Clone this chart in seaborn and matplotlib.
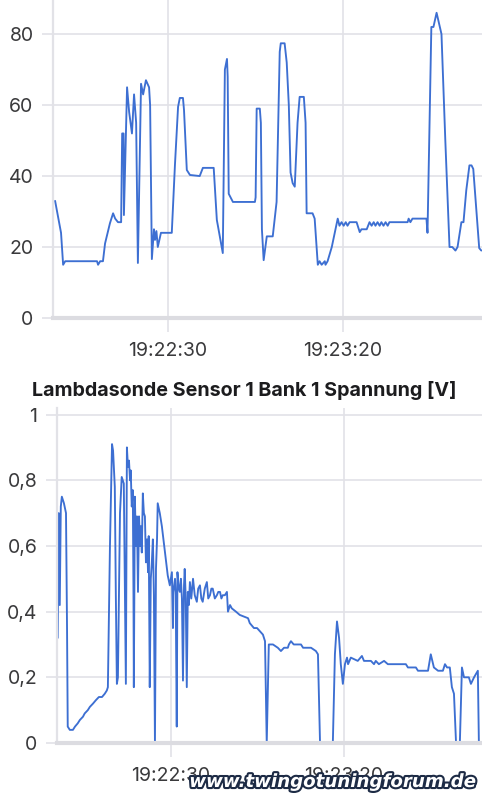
import pandas as pd
import matplotlib
matplotlib.use("Agg")
import matplotlib.pyplot as plt
import matplotlib.dates as mdates
import matplotlib.patheffects as pe
import seaborn as sns

# time stamps are seconds after 19:22:00
t_upper = [-2.3, -0.6, 0.0, 0.6, 9.7, 10.0, 10.6, 11.4, 12.0, 13.4, 14.3, 14.9, 15.7, 16.6,
           16.9, 17.3, 17.4, 18.3, 18.9, 19.7, 20.3, 20.9, 21.4, 22.3, 22.9, 23.7, 24.6, 24.9,
           25.4, 26.0, 26.3, 26.7, 27.1, 28.0, 31.1, 32.0, 32.9, 33.4, 34.3, 34.6, 35.4, 36.3,
           39.1, 40.0, 43.1, 44.0, 44.3, 45.7, 46.3, 46.9, 47.1, 47.4, 48.6, 54.9, 55.1, 55.4,
           56.3, 56.6, 56.9, 57.4, 58.3, 60.0, 61.1, 62.0, 62.3, 63.4, 64.0, 64.6, 65.1, 65.7,
           66.3, 67.1, 67.7, 68.9, 69.4, 69.7, 71.4, 72.0, 72.9, 73.4, 74.0, 74.9, 75.1, 75.7,
           76.9, 78.6, 79.1, 79.7, 80.3, 80.9, 81.4, 82.0, 82.6, 84.0, 84.9, 85.4, 86.9, 87.7,
           88.3, 88.9, 89.4, 90.0, 90.6, 91.1, 91.7, 92.3, 92.9, 93.4, 96.3, 98.6, 98.9, 99.4,
           100.0, 104.0, 104.3, 105.4, 106.0, 106.9, 108.3, 109.4, 110.6, 111.4, 112.3, 112.9,
           114.0, 114.6, 115.4, 116.3, 116.9, 117.4, 118.3, 119.1, 119.7]
upper_vals = [33, 24, 15, 16, 16, 15, 16, 16, 21, 26.7, 29.5, 28, 27, 27,
              52, 52, 29, 65, 58, 52, 63, 55, 15.5, 66, 63, 67, 65, 60,
              16.6, 25, 22, 24.5, 20, 24, 24, 43, 59.5, 62, 62, 58.6, 41.7, 40.3,
              40, 42.3, 42.3, 27.6, 26, 18.3, 70, 73, 68, 35, 32.7, 32.7, 34, 59,
              59, 55, 25, 16.3, 23, 23, 32.7, 75, 77.4, 77.4, 72, 60, 41, 38,
              37, 55, 62.3, 62.3, 55, 29.5, 29.5, 28, 15, 16, 15, 16, 15, 16,
              20, 28, 26, 27, 26, 27, 26, 27, 27, 27, 24.2, 25, 25, 27,
              26, 27, 26, 27, 26, 27, 26, 27, 26, 27, 27, 27, 28, 27,
              28, 28, 24, 82, 82, 86, 80, 50, 20, 20, 19, 20,
              27, 27, 36, 43, 43, 42, 30, 19.7, 19]

t_lambda = [-2.7, -2.4, -2.1, -1.8, -1.5, -0.9, -0.3, 0.0, 0.2, 0.8, 1.7, 2.3, 3.1, 3.7,
            4.6, 5.1, 6.0, 6.6, 7.5, 8.3, 9.2, 10.1, 10.9, 11.5,
            11.8, 12.4, 13.0, 13.3, 13.8, 14.1, 14.4, 14.7, 15.3, 15.8, 16.4, 16.7, 17.0,
            17.3, 17.6, 17.9, 18.2, 18.4, 18.7, 19.0, 19.2, 19.3, 19.6, 19.9, 20.2, 20.5,
            20.8, 21.1, 21.3, 21.6, 21.9, 22.2, 22.5, 22.8, 23.1, 23.4, 23.6, 23.9, 24.2,
            24.5, 24.8, 25.1, 25.4, 25.7, 26.0, 26.2, 26.8, 27.4, 28.3, 29.1, 29.7, 30.3,
            30.6, 30.7, 31.2, 31.4, 31.7, 31.9, 32.3, 32.6, 32.9, 33.2, 33.5, 33.8, 34.0,
            34.3, 34.6, 34.9, 35.2, 35.5, 35.9, 36.4, 36.9, 37.5, 37.9, 38.4, 38.8, 39.2,
            39.8, 40.4, 40.8, 41.3, 41.7, 42.1, 42.7, 43.3, 43.7, 44.2, 44.6, 45.0, 45.6,
            46.2, 46.5, 47.1, 47.6, 48.8, 49.9, 51.1, 52.3, 52.8,
            54.0, 54.9, 56.6, 57.2, 57.7, 58.3, 59.5, 60.9, 61.8, 62.7, 63.8,
            64.1, 64.7, 65.5, 67.6, 68.2, 70.5, 71.9, 72.5, 73.1, 76.8, 77.4, 78.0, 78.6,
            79.1, 79.7, 80.3, 80.9, 81.2, 82.0, 84.0, 85.2, 85.8, 87.8, 88.7, 89.2, 90.1,
            91.6, 92.7, 97.9, 98.5, 100.8, 101.4, 104.3, 105.1, 106.0, 107.2, 108.6, 109.2,
            109.8, 110.6, 111.2, 111.8, 112.4, 113.5, 114.1, 114.7, 115.3, 116.1, 116.7,
            117.6, 118.7, 119.0, 119.6]
lambda_volts = [0.32, 0.70, 0.42, 0.72, 0.75, 0.73, 0.70, 0.35, 0.05, 0.04, 0.04, 0.05, 0.06, 0.07,
                0.08, 0.09, 0.10, 0.11, 0.12, 0.13, 0.14, 0.14, 0.15, 0.16,
                0.17, 0.60, 0.91, 0.89, 0.78, 0.45, 0.18, 0.20, 0.70, 0.81, 0.79, 0.50, 0.18,
                0.90, 0.84, 0.86, 0.80, 0.83, 0.72, 0.77, 0.45, 0.17, 0.75, 0.60, 0.69, 0.46,
                0.69, 0.60, 0.66, 0.58, 0.76, 0.70, 0.69, 0.55, 0.62, 0.52, 0.63, 0.17, 0.50,
                0.55, 0.62, 0.45, 0.0, 0.53, 0.62, 0.73, 0.70, 0.66, 0.58, 0.51, 0.48, 0.52,
                0.35, 0.46, 0.50, 0.45, 0.05, 0.52, 0.47, 0.46, 0.50, 0.44, 0.19, 0.48, 0.53,
                0.44, 0.17, 0.46, 0.42, 0.49, 0.44, 0.50, 0.45, 0.43, 0.47, 0.48, 0.44, 0.43,
                0.47, 0.49, 0.44, 0.45, 0.47, 0.47, 0.44, 0.45, 0.46, 0.46, 0.44, 0.45, 0.45,
                0.46, 0.40, 0.42, 0.41, 0.40, 0.39, 0.385, 0.38, 0.365,
                0.35, 0.35, 0.33, 0.31, 0.0, 0.30, 0.30, 0.29, 0.28, 0.29, 0.29,
                0.30, 0.31, 0.30, 0.30, 0.29, 0.29, 0.28, 0.27, 0.0, 0.0, 0.27, 0.37, 0.32,
                0.24, 0.18, 0.24, 0.26, 0.24, 0.26, 0.25, 0.265, 0.25, 0.25, 0.24, 0.25, 0.24,
                0.25, 0.24, 0.24, 0.23, 0.23, 0.22, 0.22, 0.27, 0.23, 0.22, 0.22, 0.24,
                0.23, 0.23, 0.17, 0.15, 0.0, 0.0, 0.23, 0.20, 0.20, 0.20, 0.18,
                0.20, 0.22, 0.0, 0.0]

x_tick_labels = ["19:22:30", "19:23:20"]
upper_yticks = [0, 20, 40, 60, 80]
lambda_yticks = [0, 0.2, 0.4, 0.6, 0.8, 1.0]
lambda_title = "Lambdasonde Sensor 1 Bank 1 Spannung [V]"
watermark = "www.twingotuningforum.de"

base = pd.Timestamp("2023-06-01 19:22:00")
df_up = pd.DataFrame({"time": base + pd.to_timedelta(t_upper, unit="s"), "value": upper_vals})
df_lam = pd.DataFrame({"time": base + pd.to_timedelta(t_lambda, unit="s"), "value": lambda_volts})

sns.set_theme(style="white")
plt.rcParams["font.family"] = ["Inter", "DejaVu Sans"]

line_c = "#3d6fd2"
grid_c = "#e2e2e7"
text_c = "#3a3a3c"

fig = plt.figure(figsize=(4.82, 8.0), dpi=100)
ax1 = fig.add_axes([53 / 482, 1 - 318 / 800, 1 - 53 / 482, 318 / 800])
ax2 = fig.add_axes([57 / 482, 1 - 743 / 800, 1 - 57 / 482, 335 / 800])

xmin = base + pd.Timedelta(seconds=-2.9)
xmax = base + pd.Timedelta(seconds=119.9)
tick_times = [pd.Timestamp(f"2023-06-01 {s}") for s in x_tick_labels]

for ax, df, yticks, ytop in [(ax1, df_up, upper_yticks, 89.6), (ax2, df_lam, lambda_yticks, 1.02)]:
    sns.lineplot(data=df, x="time", y="value", ax=ax, color=line_c, lw=1.35,
                 sort=False, estimator=None)
    ax.set_xlim(xmin, xmax)
    ax.set_ylim(0, ytop)
    ax.set_xticks(tick_times)
    ax.xaxis.set_major_formatter(mdates.DateFormatter("%H:%M:%S"))
    ax.set_yticks(yticks)
    ax.set_yticklabels([f"{v:g}".replace(".", ",") for v in yticks])
    ax.set_xlabel("")
    ax.set_ylabel("")
    ax.grid(True, color=grid_c, lw=1.2)
    ax.set_axisbelow(True)
    for s in ["top", "right"]:
        ax.spines[s].set_visible(False)
    ax.spines["left"].set_color(grid_c)
    ax.spines["left"].set_linewidth(1.6)
    ax.spines["bottom"].set_color("#dcdce1")
    ax.spines["bottom"].set_linewidth(3)
    ax.tick_params(axis="y", left=True, length=8, width=1.2, color=grid_c, pad=6,
                   labelsize=14, labelcolor=text_c)
    ax.tick_params(axis="x", bottom=True, length=10, width=1.2, color=grid_c, pad=7,
                   labelsize=14, labelcolor=text_c)

fig.text(32 / 482, 1 - 391 / 800, lambda_title, ha="left", va="center",
         fontsize=14.2, fontweight="bold", color="#1c1c1e")

# watermark sits on top of the lower tick labels, as in the screenshot
wm = fig.text(475 / 482, 1 - 782 / 800, watermark, ha="right", va="center",
              fontsize=13.1, fontweight="heavy", style="italic", color="white",
              family="DejaVu Sans", zorder=10)
wm.set_path_effects([pe.Stroke(linewidth=3, foreground="#1d2b45"), pe.Normal()])

fig.savefig("out.png", dpi=100)
